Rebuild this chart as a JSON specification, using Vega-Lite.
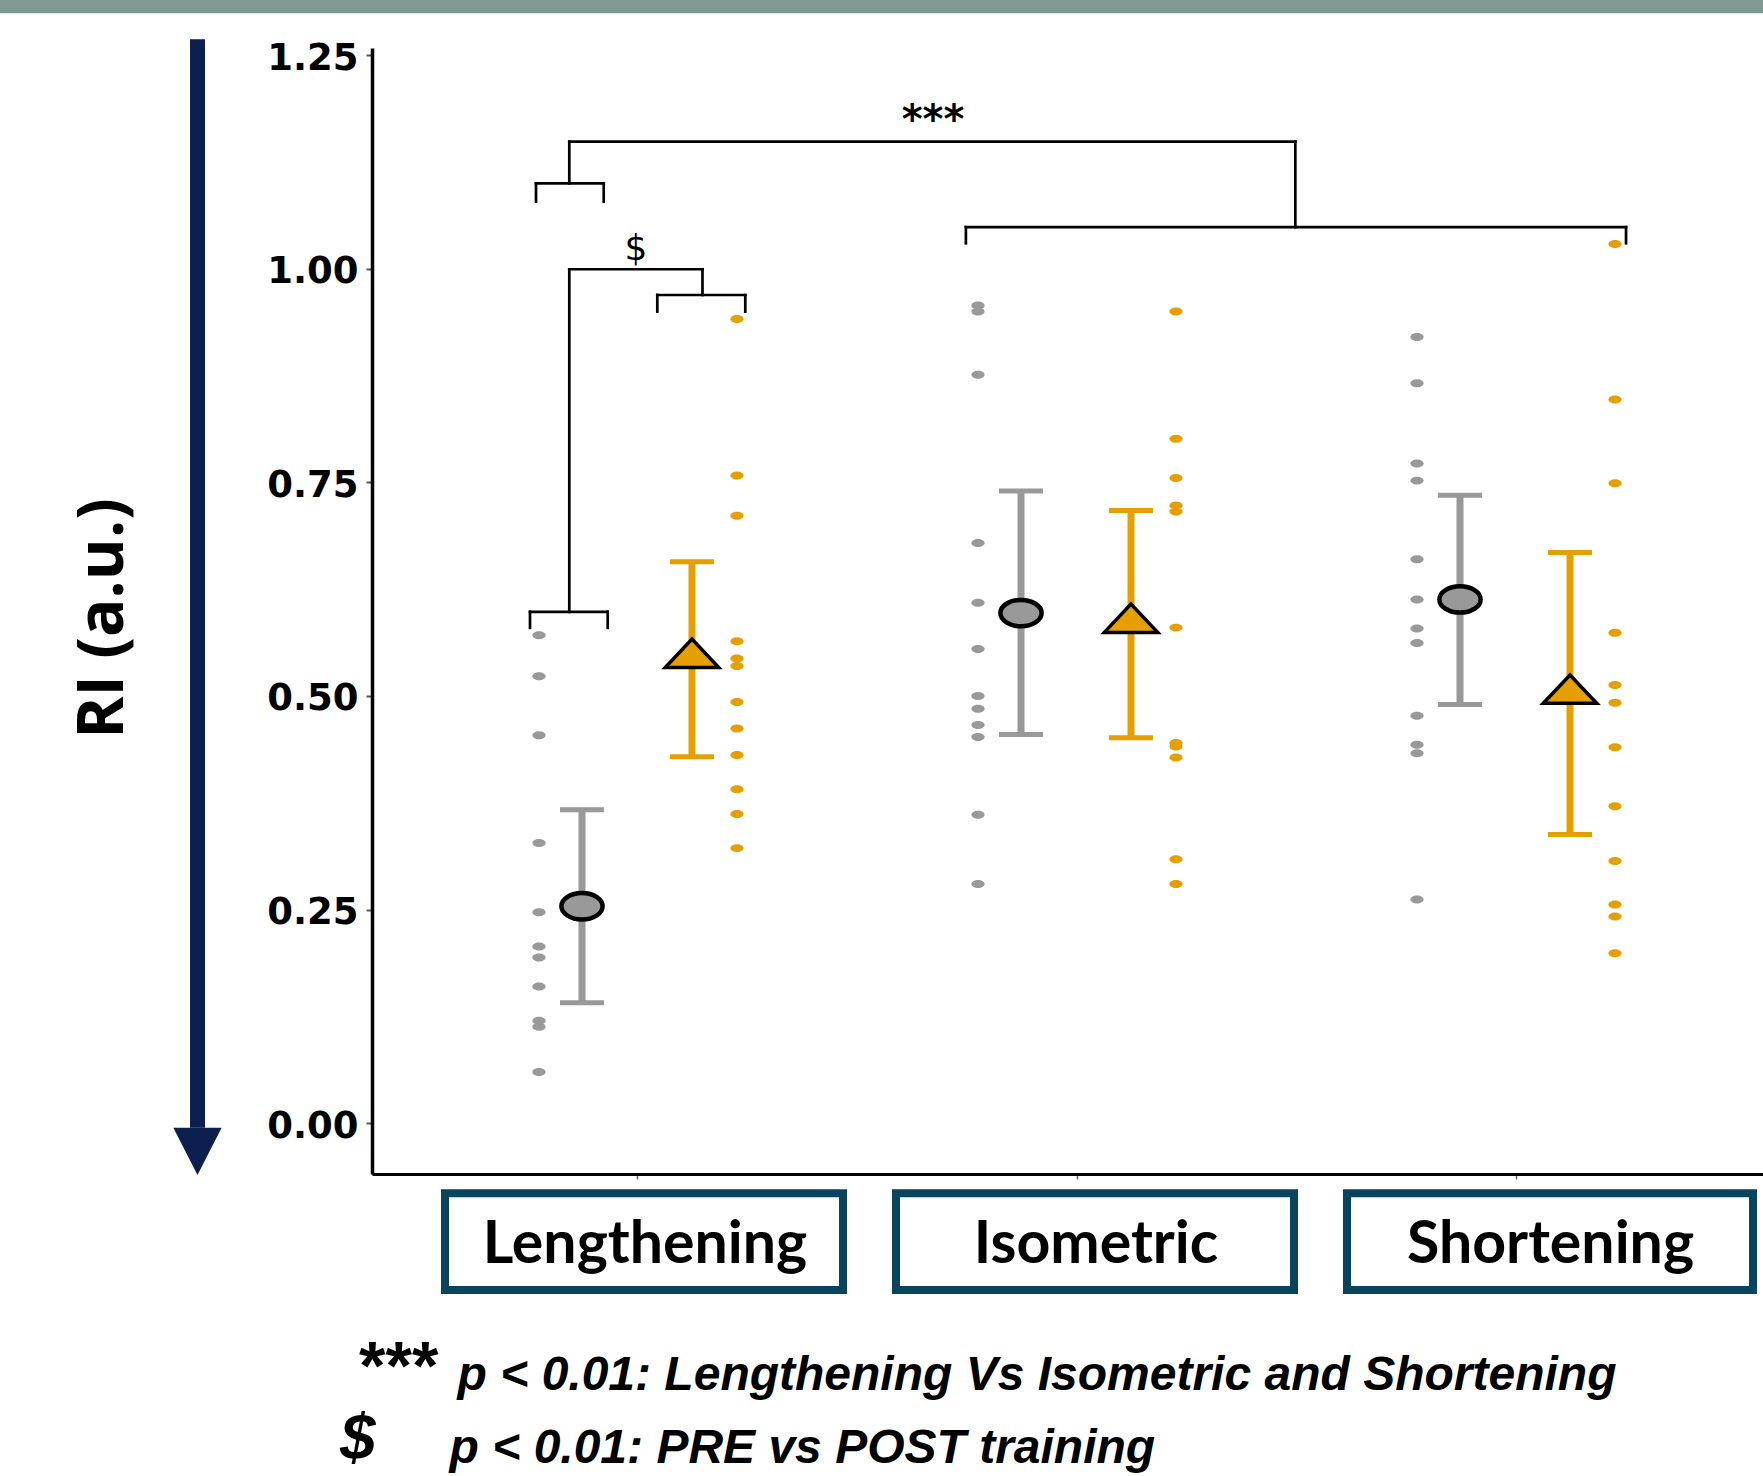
{
  "$schema": "https://vega.github.io/schema/vega-lite/v6.json",
  "autosize": {"type": "none"},
  "width": 1391,
  "height": 1126,
  "padding": {"left": 372, "top": 48, "right": 0, "bottom": 302},
  "background": "white",
  "config": {
    "view": {"stroke": null},
    "axisY": {
      "labelFont": "DejaVu Sans", "labelFontWeight": "bold", "labelFontSize": 37, "labelColor": "black",
      "labelPadding": 8, "labelOffset": 3, "tickSize": 6, "tickColor": "#555555", "tickWidth": 2,
      "domainColor": "black", "domainWidth": 3.5, "grid": false,
      "titleFont": "Open Sans", "titleFontSize": 64, "titleFontWeight": "bold", "titleColor": "black",
      "titleAngle": 270, "titleAlign": "center", "titleBaseline": "alphabetic"
    }
  },
  "datasets": {
    "pts": [
      {"condition": "Lengthening", "phase": "PRE", "ri": 0.571},
      {"condition": "Lengthening", "phase": "PRE", "ri": 0.523},
      {"condition": "Lengthening", "phase": "PRE", "ri": 0.454},
      {"condition": "Lengthening", "phase": "PRE", "ri": 0.328},
      {"condition": "Lengthening", "phase": "PRE", "ri": 0.247},
      {"condition": "Lengthening", "phase": "PRE", "ri": 0.207},
      {"condition": "Lengthening", "phase": "PRE", "ri": 0.194},
      {"condition": "Lengthening", "phase": "PRE", "ri": 0.160},
      {"condition": "Lengthening", "phase": "PRE", "ri": 0.120},
      {"condition": "Lengthening", "phase": "PRE", "ri": 0.113},
      {"condition": "Lengthening", "phase": "PRE", "ri": 0.060},
      {"condition": "Lengthening", "phase": "POST", "ri": 0.941},
      {"condition": "Lengthening", "phase": "POST", "ri": 0.758},
      {"condition": "Lengthening", "phase": "POST", "ri": 0.711},
      {"condition": "Lengthening", "phase": "POST", "ri": 0.564},
      {"condition": "Lengthening", "phase": "POST", "ri": 0.544},
      {"condition": "Lengthening", "phase": "POST", "ri": 0.535},
      {"condition": "Lengthening", "phase": "POST", "ri": 0.493},
      {"condition": "Lengthening", "phase": "POST", "ri": 0.462},
      {"condition": "Lengthening", "phase": "POST", "ri": 0.431},
      {"condition": "Lengthening", "phase": "POST", "ri": 0.391},
      {"condition": "Lengthening", "phase": "POST", "ri": 0.362},
      {"condition": "Lengthening", "phase": "POST", "ri": 0.322},
      {"condition": "Isometric", "phase": "PRE", "ri": 0.957},
      {"condition": "Isometric", "phase": "PRE", "ri": 0.950},
      {"condition": "Isometric", "phase": "PRE", "ri": 0.876},
      {"condition": "Isometric", "phase": "PRE", "ri": 0.679},
      {"condition": "Isometric", "phase": "PRE", "ri": 0.609},
      {"condition": "Isometric", "phase": "PRE", "ri": 0.555},
      {"condition": "Isometric", "phase": "PRE", "ri": 0.500},
      {"condition": "Isometric", "phase": "PRE", "ri": 0.485},
      {"condition": "Isometric", "phase": "PRE", "ri": 0.466},
      {"condition": "Isometric", "phase": "PRE", "ri": 0.452},
      {"condition": "Isometric", "phase": "PRE", "ri": 0.361},
      {"condition": "Isometric", "phase": "PRE", "ri": 0.280},
      {"condition": "Isometric", "phase": "POST", "ri": 0.950},
      {"condition": "Isometric", "phase": "POST", "ri": 0.801},
      {"condition": "Isometric", "phase": "POST", "ri": 0.755},
      {"condition": "Isometric", "phase": "POST", "ri": 0.723},
      {"condition": "Isometric", "phase": "POST", "ri": 0.716},
      {"condition": "Isometric", "phase": "POST", "ri": 0.580},
      {"condition": "Isometric", "phase": "POST", "ri": 0.445},
      {"condition": "Isometric", "phase": "POST", "ri": 0.441},
      {"condition": "Isometric", "phase": "POST", "ri": 0.428},
      {"condition": "Isometric", "phase": "POST", "ri": 0.309},
      {"condition": "Isometric", "phase": "POST", "ri": 0.280},
      {"condition": "Shortening", "phase": "PRE", "ri": 0.920},
      {"condition": "Shortening", "phase": "PRE", "ri": 0.866},
      {"condition": "Shortening", "phase": "PRE", "ri": 0.772},
      {"condition": "Shortening", "phase": "PRE", "ri": 0.752},
      {"condition": "Shortening", "phase": "PRE", "ri": 0.660},
      {"condition": "Shortening", "phase": "PRE", "ri": 0.613},
      {"condition": "Shortening", "phase": "PRE", "ri": 0.579},
      {"condition": "Shortening", "phase": "PRE", "ri": 0.562},
      {"condition": "Shortening", "phase": "PRE", "ri": 0.477},
      {"condition": "Shortening", "phase": "PRE", "ri": 0.443},
      {"condition": "Shortening", "phase": "PRE", "ri": 0.433},
      {"condition": "Shortening", "phase": "PRE", "ri": 0.262},
      {"condition": "Shortening", "phase": "POST", "ri": 1.029},
      {"condition": "Shortening", "phase": "POST", "ri": 0.847},
      {"condition": "Shortening", "phase": "POST", "ri": 0.749},
      {"condition": "Shortening", "phase": "POST", "ri": 0.574},
      {"condition": "Shortening", "phase": "POST", "ri": 0.513},
      {"condition": "Shortening", "phase": "POST", "ri": 0.492},
      {"condition": "Shortening", "phase": "POST", "ri": 0.440},
      {"condition": "Shortening", "phase": "POST", "ri": 0.371},
      {"condition": "Shortening", "phase": "POST", "ri": 0.307},
      {"condition": "Shortening", "phase": "POST", "ri": 0.256},
      {"condition": "Shortening", "phase": "POST", "ri": 0.242},
      {"condition": "Shortening", "phase": "POST", "ri": 0.199}
    ],
    "summ": [
      {"condition": "Lengthening", "phase": "PRE", "mean": 0.254, "lo": 0.141, "hi": 0.367},
      {"condition": "Lengthening", "phase": "POST", "mean": 0.550, "lo": 0.429, "hi": 0.657},
      {"condition": "Isometric", "phase": "PRE", "mean": 0.597, "lo": 0.455, "hi": 0.740},
      {"condition": "Isometric", "phase": "POST", "mean": 0.591, "lo": 0.451, "hi": 0.717},
      {"condition": "Shortening", "phase": "PRE", "mean": 0.613, "lo": 0.490, "hi": 0.735},
      {"condition": "Shortening", "phase": "POST", "mean": 0.508, "lo": 0.338, "hi": 0.668}
    ],
    "brackets": [
      {"x1": 0.7677, "x2": 0.9219, "y1": 1.0999, "y2": 1.0999},
      {"x1": 0.7677, "x2": 0.7677, "y1": 1.0999, "y2": 1.0784},
      {"x1": 0.9219, "x2": 0.9219, "y1": 1.0999, "y2": 1.0784},
      {"x1": 0.8435, "x2": 0.8435, "y1": 1.0999, "y2": 1.1486},
      {"x1": 0.8435, "x2": 2.4973, "y1": 1.1486, "y2": 1.1486},
      {"x1": 2.4973, "x2": 2.4973, "y1": 1.1486, "y2": 1.0486},
      {"x1": 1.7469, "x2": 3.2506, "y1": 1.0486, "y2": 1.0486},
      {"x1": 1.7469, "x2": 1.7469, "y1": 1.0486, "y2": 1.0297},
      {"x1": 3.2506, "x2": 3.2506, "y1": 1.0486, "y2": 1.0297},
      {"x1": 0.7540, "x2": 0.9310, "y1": 0.5985, "y2": 0.5985},
      {"x1": 0.7540, "x2": 0.7540, "y1": 0.5985, "y2": 0.5797},
      {"x1": 0.9310, "x2": 0.9310, "y1": 0.5985, "y2": 0.5797},
      {"x1": 0.8435, "x2": 0.8435, "y1": 0.5985, "y2": 0.9993},
      {"x1": 0.8435, "x2": 1.1469, "y1": 0.9993, "y2": 0.9993},
      {"x1": 1.1469, "x2": 1.1469, "y1": 0.9993, "y2": 0.9692},
      {"x1": 1.0440, "x2": 1.2444, "y1": 0.9692, "y2": 0.9692},
      {"x1": 1.0440, "x2": 1.0440, "y1": 0.9692, "y2": 0.9497},
      {"x1": 1.2444, "x2": 1.2444, "y1": 0.9692, "y2": 0.9497}
    ],
    "boxes": [
      {"x1": 0.5604, "x2": 1.4670, "y1": -0.0819, "y2": -0.1951},
      {"x1": 1.5877, "x2": 2.4943, "y1": -0.0819, "y2": -0.1951},
      {"x1": 2.6150, "x2": 3.5399, "y1": -0.0819, "y2": -0.1951}
    ],
    "boxlabels": [
      {"label": "Lengthening", "x1": 1.0159, "y1": -0.1638},
      {"label": "Isometric", "x1": 2.0433, "y1": -0.1638},
      {"label": "Shortening", "x1": 3.0786, "y1": -0.1638}
    ]
  },
  "layer": [
    {
      "encoding": {
        "x": {"field": "x1", "type": "quantitative", "scale": {"domain": [0.3941, 3.5626], "nice": false, "zero": false}, "axis": null},
        "y": {"field": "y1", "type": "quantitative", "scale": {"domain": [-0.0593, 1.2582], "nice": false, "zero": false}}
      },
      "layer": [
        {
          "data": {"values": [{"x1": -0.47, "x2": 3.6, "y1": 1.2989, "y2": 1.34}]},
          "mark": {"type": "rect", "color": "#7e9a93", "opacity": 1},
          "encoding": {"x2": {"field": "x2"}, "y2": {"field": "y2"}}
        },
        {
          "data": {"values": [{"x1": -0.0034, "y1": 1.2684, "y2": -0.0051}]},
          "mark": {"type": "rule", "color": "#0d1f4e", "strokeWidth": 15, "opacity": 1},
          "encoding": {"y2": {"field": "y2"}}
        },
        {
          "data": {"values": [{"x1": -0.0034, "y1": -0.0328}]},
          "mark": {"type": "point", "shape": "M-1,-0.979L1,-0.979L0,0.979Z", "size": 2333, "filled": true, "color": "#0d1f4e", "opacity": 1}
        },
        {
          "data": {"name": "brackets"},
          "mark": {"type": "rule", "color": "black", "strokeWidth": 2.7, "strokeCap": "square", "opacity": 1},
          "encoding": {"x2": {"field": "x2"}, "y2": {"field": "y2"}}
        },
        {
          "data": {"name": "boxes"},
          "mark": {"type": "rect", "fill": "white", "stroke": "#08445e", "strokeWidth": 8, "opacity": 1},
          "encoding": {"x2": {"field": "x2"}, "y2": {"field": "y2"}}
        },
        {
          "data": {"name": "boxlabels"},
          "mark": {"type": "text", "font": "Lato", "fontWeight": "bold", "fontSize": 59, "align": "center", "baseline": "alphabetic", "color": "black"},
          "encoding": {"text": {"field": "label"}}
        },
        {
          "data": {"values": [{"t": "***", "x1": 1.672, "y1": 1.1588}]},
          "mark": {"type": "text", "font": "DejaVu Sans", "fontWeight": "bold", "fontSize": 40, "align": "center", "baseline": "alphabetic", "color": "black"},
          "encoding": {"text": {"field": "t"}}
        },
        {
          "data": {"values": [{"t": "$", "x1": 0.9954, "y1": 1.0096}]},
          "mark": {"type": "text", "font": "DejaVu Sans", "fontSize": 36, "align": "center", "baseline": "alphabetic", "color": "black"},
          "encoding": {"text": {"field": "t"}}
        },
        {
          "data": {"values": [{"t": "***", "x1": 0.3645, "y1": -0.3106}]},
          "mark": {"type": "text", "font": "Liberation Sans", "fontWeight": "bold", "fontSize": 68, "align": "left", "baseline": "alphabetic", "color": "black"},
          "encoding": {"text": {"field": "t"}}
        },
        {
          "data": {"values": [{"t": "$", "x1": 0.3212, "y1": -0.394}]},
          "mark": {"type": "text", "font": "Liberation Sans", "fontWeight": "bold", "fontStyle": "italic", "fontSize": 64, "align": "left", "baseline": "alphabetic", "color": "black"},
          "encoding": {"text": {"field": "t"}}
        },
        {
          "data": {"values": [
            {"t": "p < 0.01: Lengthening Vs Isometric and Shortening", "x1": 0.5891, "y1": -0.3121},
            {"t": "p < 0.01: PRE vs POST training", "x1": 0.5709, "y1": -0.3975}
          ]},
          "mark": {"type": "text", "font": "Liberation Sans", "fontWeight": "bold", "fontStyle": "italic", "fontSize": 48, "align": "left", "baseline": "alphabetic", "color": "black"},
          "encoding": {"text": {"field": "t"}}
        }
      ]
    },
    {
      "encoding": {
        "x": {
          "field": "condition", "type": "nominal",
          "scale": {"domain": ["Lengthening", "Isometric", "Shortening"], "range": [0, 1410], "paddingInner": 0, "paddingOuter": 0.1059},
          "axis": {"labels": false, "title": null, "tickSize": 5, "tickColor": "#666666", "tickWidth": 1.5, "domainColor": "black", "domainWidth": 3, "grid": false}
        }
      },
      "layer": [
        {
          "data": {"name": "pts"},
          "transform": [{"filter": "datum.phase === 'PRE'"}],
          "mark": {"type": "point", "shape": "M-1,0A1,0.6,0,1,0,1,0A1,0.6,0,1,0,-1,0Z", "size": 177, "filled": true, "color": "#999999", "opacity": 1, "xOffset": -99},
          "encoding": {
            "y": {
              "field": "ri", "type": "quantitative",
              "scale": {"domain": [-0.0593, 1.2582], "nice": false, "zero": false},
              "axis": {
                "values": [0, 0.25, 0.5, 0.75, 1, 1.25], "format": ".2f",
                "labelFont": "DejaVu Sans", "labelFontWeight": "bold", "labelFontSize": 37, "labelColor": "black",
                "labelPadding": 8, "labelOffset": 3, "tickSize": 6, "tickColor": "#555555", "tickWidth": 2,
                "domainColor": "black", "domainWidth": 3.5, "grid": false,
                "title": "RI (a.u.)", "titleFont": "Open Sans", "titleFontSize": 64, "titleFontWeight": "bold", "titleColor": "black",
                "titleAngle": 270, "titleX": -250, "titleY": 570, "titleAlign": "center", "titleBaseline": "alphabetic"
              }
            }
          }
        },
        {
          "data": {"name": "pts"},
          "transform": [{"filter": "datum.phase === 'POST'"}],
          "mark": {"type": "point", "shape": "M-1,0A1,0.6,0,1,0,1,0A1,0.6,0,1,0,-1,0Z", "size": 177, "filled": true, "color": "#E69F00", "opacity": 1, "xOffset": 99},
          "encoding": {"y": {"field": "ri", "type": "quantitative"}}
        },
        {
          "data": {"name": "summ"},
          "transform": [{"filter": "datum.phase === 'PRE'"}],
          "mark": {"type": "rule", "color": "#999999", "strokeWidth": 7, "opacity": 1, "xOffset": -56},
          "encoding": {"y": {"field": "lo", "type": "quantitative"}, "y2": {"field": "hi"}}
        },
        {
          "data": {"name": "summ"},
          "transform": [{"filter": "datum.phase === 'POST'"}],
          "mark": {"type": "rule", "color": "#E69F00", "strokeWidth": 7, "opacity": 1, "xOffset": 54},
          "encoding": {"y": {"field": "lo", "type": "quantitative"}, "y2": {"field": "hi"}}
        },
        {
          "data": {"name": "summ"},
          "transform": [{"filter": "datum.phase === 'PRE'"}, {"fold": ["lo", "hi"], "as": ["bound", "val"]}],
          "mark": {"type": "tick", "orient": "horizontal", "size": 44, "thickness": 5, "color": "#999999", "opacity": 1, "xOffset": -56},
          "encoding": {"y": {"field": "val", "type": "quantitative"}}
        },
        {
          "data": {"name": "summ"},
          "transform": [{"filter": "datum.phase === 'POST'"}, {"fold": ["lo", "hi"], "as": ["bound", "val"]}],
          "mark": {"type": "tick", "orient": "horizontal", "size": 44, "thickness": 5, "color": "#E69F00", "opacity": 1, "xOffset": 54},
          "encoding": {"y": {"field": "val", "type": "quantitative"}}
        },
        {
          "data": {"name": "summ"},
          "transform": [{"filter": "datum.phase === 'PRE'"}],
          "mark": {"type": "point", "shape": "M-1,0A1,0.64,0,1,0,1,0A1,0.64,0,1,0,-1,0Z", "size": 1700, "filled": true, "fill": "#999999", "stroke": "black", "strokeWidth": 4.5, "opacity": 1, "xOffset": -56},
          "encoding": {"y": {"field": "mean", "type": "quantitative"}}
        },
        {
          "data": {"name": "summ"},
          "transform": [{"filter": "datum.phase === 'POST'"}],
          "mark": {"type": "point", "shape": "M-1,0.53L1,0.53L0,-0.53Z", "size": 2862, "filled": true, "fill": "#E69F00", "stroke": "black", "strokeWidth": 3.5, "opacity": 1, "xOffset": 54},
          "encoding": {"y": {"field": "mean", "type": "quantitative"}}
        }
      ]
    }
  ],
  "resolve": {"scale": {"x": "independent"}}
}
